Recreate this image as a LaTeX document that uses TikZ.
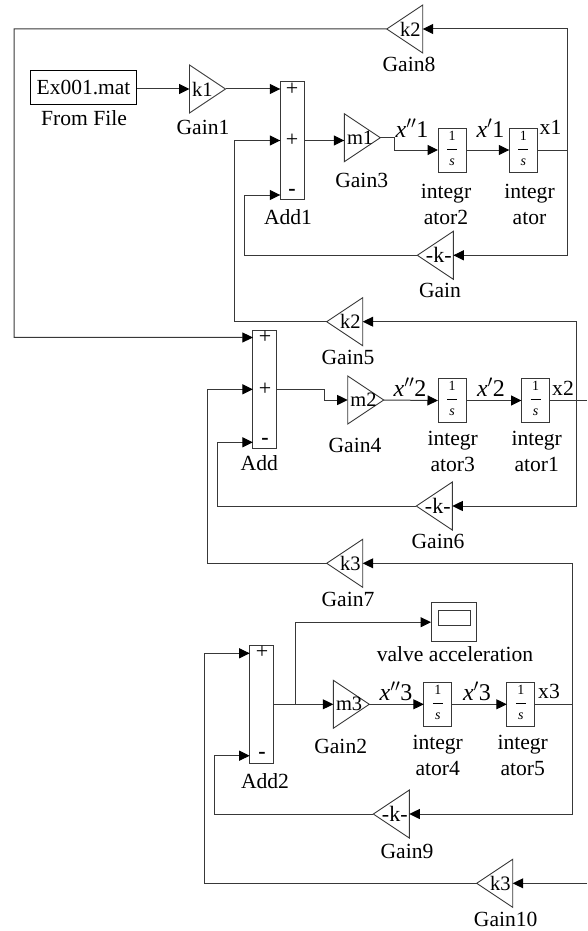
\documentclass[tikz,border=0pt]{standalone}
\usepackage{fontspec}
\setmainfont{Liberation Serif}
\usetikzlibrary{positioning,arrows.meta,shapes.geometric}
\definecolor{wire}{gray}{0.22}
\tikzset{
  lbl/.style={inner sep=0pt, align=center, font=\fontsize{21.6}{26}\selectfont},
  sig/.style={inner sep=0pt, font=\fontsize{24}{26}\selectfont},
  gaintxt/.style={inner sep=0pt, font=\fontsize{20.5}{24}\selectfont},
  sign/.style={inner sep=0pt, font=\fontsize{22}{24}\selectfont},
  gainr/.style={draw=wire, line width=.9pt, isosceles triangle, isosceles triangle stretches,
                minimum width=48pt, minimum height=36pt, inner sep=0pt, outer sep=0pt,
                anchor=lower side},
  gainl/.style={gainr, shape border rotate=180},
  addblk/.style={draw=wire, line width=1.1pt, minimum width=24pt, inner sep=0pt, outer sep=0pt},
  integ/.style={draw=wire, line width=.9pt, minimum width=28pt, minimum height=44pt,
                inner sep=0pt, outer sep=0pt},
  flow/.style={draw=wire, line width=1pt, -{Triangle[length=10.5pt,width=10pt,color=black]}},
  wireline/.style={draw=wire, line width=1pt},
}
\newcommand{\invs}{\fontsize{14}{14}\selectfont\begin{tabular}{@{}c@{}}1\\[-5pt]\rule{10pt}{.8pt}\\[2pt]\textit{s}\end{tabular}}
\newcommand{\ddx}{\textit{x}$''$}
\newcommand{\dx}{\textit{x}$'$}

\begin{document}
\begin{tikzpicture}[x=1pt, y=-1pt]
\useasboundingbox (0,0) rectangle (587,931);

%% first row
\node[draw, line width=.8pt, minimum width=106pt, minimum height=33.5pt, inner sep=0pt,
  font=\fontsize{21.5}{26}\selectfont] (file) at (83.5,87.5) {Ex001.mat};
\node[lbl] (filelbl) at (84,118) {From File};
\node[gainr] (gain1) at (189.5,89) {};
\node[gaintxt, right=2.5pt of gain1.lower side] (gain1txt) {k1};
\node[lbl] (gain1lbl) at (203,127) {Gain1};

\node[addblk, minimum height=118pt] (add1) at (292.3,140.5) {};
\node[sign] (add1a) at (292,89) {+};
\node[sign] (add1b) at (292,140.5) {+};
\node[sign] (add1c) at (292,192.5) {\textbf{-}};
\node[lbl] (add1lbl) at (288,217) {Add1};

\node[gainr] (gain3) at (344.3,137.7) {};
\node[gaintxt, right=2.5pt of gain3.lower side] (gain3txt) {m1};
\node[lbl] (gain3lbl) at (361.7,180) {Gain3};
\node[integ] (int2) at (452,150) {\invs};
\node[lbl] (int2lbl) at (446,204) {integr\\ator2};
\node[integ] (int0) at (523.3,150) {\invs};
\node[lbl] (int0lbl) at (529.5,204) {integr\\ator};
\node[sig] (ddx1) at (412,128) {\ddx1};
\node[sig] (dx1) at (490.5,128) {\dx1};
\node[lbl] (x1) at (550.5,127) {x1};
\coordinate (x1tap) at (567.3,150);

\node[gainl] (gain8) at (422.7,29) {};
\node[gaintxt, left=2pt of gain8.lower side] (gain8txt) {k2};
\node[lbl] (gain8lbl) at (409,64.3) {Gain8};
\node[gainl] (gain) at (453.3,255.3) {};
\node[gaintxt, left=1.5pt of gain.lower side, font=\fontsize{22}{24}\selectfont] (gaintxt) {-k-};
\node[lbl] (gainlbl) at (440,290) {Gain};

%% second row
\node[gainl] (gain5) at (362.7,321.7) {};
\node[gaintxt, left=2pt of gain5.lower side] (gain5txt) {k2};
\node[lbl] (gain5lbl) at (348,357.3) {Gain5};

\node[addblk, minimum height=117.6pt] (add) at (264.9,389.5) {};
\node[sign] (adda) at (265,337.5) {+};
\node[sign] (addb) at (265,389.3) {+};
\node[sign] (addc) at (265,441) {\textbf{-}};
\node[lbl] (addlbl) at (259.3,463) {Add};

\node[gainr] (gain4) at (347.7,400) {};
\node[gaintxt, right=2.5pt of gain4.lower side] (gain4txt) {m2};
\node[lbl] (gain4lbl) at (355,445) {Gain4};
\node[integ] (int3) at (452,400.5) {\invs};
\node[lbl] (int3lbl) at (452.7,451) {integr\\ator3};
\node[integ] (int1) at (535.5,400.5) {\invs};
\node[lbl] (int1lbl) at (536.7,451) {integr\\ator1};
\node[sig] (ddx2) at (410,387) {\ddx2};
\node[sig] (dx2) at (491,387) {\dx2};
\node[lbl] (x2) at (563,388) {x2};
\coordinate (x2tap) at (576.7,400.5);
\coordinate (x2end) at (587,400.5);

\node[gainl] (gain6) at (452.3,506) {};
\node[gaintxt, left=1.5pt of gain6.lower side, font=\fontsize{22}{24}\selectfont] (gain6txt) {-k-};
\node[lbl] (gain6lbl) at (438,541.7) {Gain6};
\node[gainl] (gain7) at (362.7,563.3) {};
\node[gaintxt, left=2pt of gain7.lower side] (gain7txt) {k3};
\node[lbl] (gain7lbl) at (348,599) {Gain7};

%% third row
\node[draw=wire, line width=.9pt, minimum width=45.3pt, minimum height=39pt, inner sep=0pt,
  outer sep=0pt] (scp) at (453.7,622.2) {};
\node[draw=wire, line width=.9pt, minimum width=32pt, minimum height=14.6pt, inner sep=0pt]
  (scpscreen) at (454.7,618) {};
\node[lbl] (scplbl) at (455,654) {valve acceleration};

\node[addblk, minimum height=118pt] (add2) at (261.7,704.3) {};
\node[sign] (add2a) at (262,652.5) {+};
\node[sign] (add2c) at (262,755) {\textbf{-}};
\node[lbl] (add2lbl) at (265,781) {Add2};
\coordinate (add2tap) at (295,704.3);

\node[gainr] (gain2) at (333.3,704.3) {};
\node[gaintxt, right=2.5pt of gain2.lower side] (gain2txt) {m3};
\node[lbl] (gain2lbl) at (340.7,746.7) {Gain2};
\node[integ] (int4) at (437.8,704.3) {\invs};
\node[lbl] (int4lbl) at (437.7,755.6) {integr\\ator4};
\node[integ] (int5) at (520.8,704.3) {\invs};
\node[lbl] (int5lbl) at (522.7,755.6) {integr\\ator5};
\node[sig] (ddx3) at (396,691) {\ddx3};
\node[sig] (dx3) at (477,691) {\dx3};
\node[lbl] (x3) at (549,691) {x3};
\coordinate (x3tap) at (572,704.3);

\node[gainl] (gain9) at (409.3,814) {};
\node[gaintxt, left=1.5pt of gain9.lower side, font=\fontsize{22}{24}\selectfont] (gain9txt) {-k-};
\node[lbl] (gain9lbl) at (407,851.7) {Gain9};
\node[gainl] (gain10) at (512.7,883.3) {};
\node[gaintxt, left=2pt of gain10.lower side] (gain10txt) {k3};
\node[lbl] (gain10lbl) at (505.7,919) {Gain10};
\coordinate (x3end) at (587,883.3);

%% connectors, first row
\draw[flow] (file.east |- gain1.lower side) -- (gain1.lower side);
\draw[flow] (gain1.apex) -- (add1.west |- add1a);
\draw[flow] (add1.east) -- (gain3.lower side |- add1.east);
\draw[flow] (gain3.apex) -- ++(14,0) |- (int2.west);
\draw[flow] (int2.east) -- (int0.west);
\draw[wireline] (int0.east) -- (x1tap);
\draw[flow] (x1tap) |- (gain8.lower side);
\draw[flow] (x1tap) |- (gain.lower side);
\draw[flow] (gain.apex) -| (244.3,195) -- (add1.west |- 0,195);
\draw[flow] (gain5.apex) -| (234.4,140.5) -- (add1.west);
\draw[flow] (gain8.apex) -| (14,337.3) -- (add.west |- adda);

%% connectors, second row
\draw[flow] (add.east |- addb) -- ++(48,0) |- (gain4.lower side);
\draw[flow] (gain4.apex) -- (int3.west);
\draw[flow] (int3.east) -- (int1.west);
\draw[wireline] (int1.east) -- (x2end);
\draw[flow] (x2tap) |- (gain5.lower side);
\draw[flow] (x2tap) |- (gain6.lower side);
\draw[flow] (gain6.apex) -| (217.3,442.3) -- (add.west |- 0,442.3);
\draw[flow] (gain7.apex) -| (207.3,389.3) -- (add.west |- addb);

%% connectors, third row
\draw[flow] (add2.east) -- (gain2.lower side);
\draw[flow] (add2tap) |- (scp.west);
\draw[flow] (gain2.apex) -- (int4.west);
\draw[flow] (int4.east) -- (int5.west);
\draw[wireline] (int5.east) -- (x3tap);
\draw[flow] (x3tap) |- (gain7.lower side);
\draw[flow] (x3tap) |- (gain9.lower side);
\draw[flow] (gain9.apex) -| (214,755.7) -- (add2.west |- 0,755.7);
\draw[flow] (x3end) -- (gain10.lower side);
\draw[flow] (gain10.apex) -| (204.3,653.3) -- (add2.west |- 0,653.3);

\end{tikzpicture}
\end{document}
